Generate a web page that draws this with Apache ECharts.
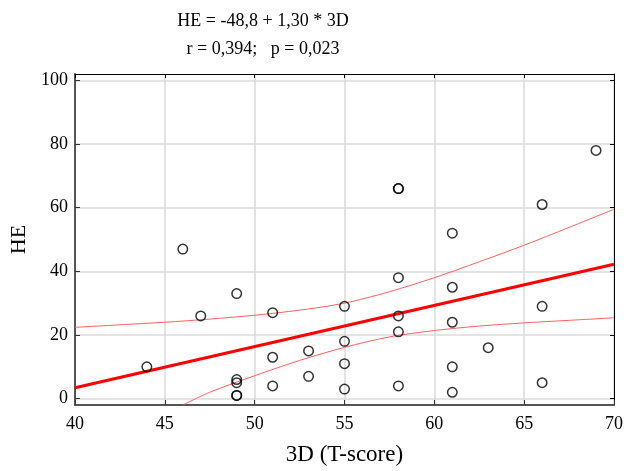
<!DOCTYPE html>
<html>
<head>
<meta charset="utf-8">
<script src="https://cdn.jsdelivr.net/npm/echarts@6/dist/echarts.min.js"></script>
<style>
html,body{margin:0;padding:0;background:#fff;}
#chart{width:626px;height:471px;}
</style>
</head>
<body>
<div id="chart"></div>
<script>
// Observations: 3D (T-score) vs HE
var xVals = [44,46,47,49,49,49,49,49,51,51,51,53,53,55,55,55,55,58,58,58,58,58,58,61,61,61,61,61,63,66,66,66,69];
var yVals = [10,47,26,33,6,5,1,1,27,13,4,15,7,29,18,11,3,66,66,38,26,21,4,52,35,24,10,2,16,61,29,5,78];

// Regression line end points
var regX = [40, 70];
var regY = [3.4, 42.2];

// 95% confidence bands
var upperX = [40,42.5,45,47.5,50,52.5,55,57.5,60,62.5,65,67.5,70];
var upperY = [22.4,23.2,24,25,26.2,27.8,30,33.6,38,43,48.2,53.8,59.5];
var lowerX = [46,47.5,50,52.5,55,57.5,60,62.5,65,67.5,70];
var lowerY = [-2,2,7.2,12,16.1,19.4,21.4,22.8,23.8,24.6,25.4];

var xTicks = [40,45,50,55,60,65,70];
var yTicks = [0,20,40,60,80,100];

var titleLine1 = 'HE = -48,8 + 1,30 * 3D';
var titleLine2 = 'r = 0,394;   p = 0,023';
var xName = '3D (T-score)';
var yName = 'HE';

function pairs(xs, ys){ return xs.map(function(x,i){ return [x, ys[i]]; }); }

var FONT = 'Liberation Serif';
var chart = echarts.init(document.getElementById('chart'), null, {renderer:'canvas'});
chart.setOption({
  animation: false,
  backgroundColor: '#ffffff',
  title: {
    text: titleLine1 + '\n' + titleLine2,
    left: 263, top: 7, padding: 0,
    textAlign: 'center',
    textStyle: {fontFamily: FONT, fontSize: 18, fontWeight: 'normal', color: '#000', lineHeight: 28}
  },
  grid: {left: 75, right: 12, top: 74, bottom: 63, containLabel: false},
  xAxis: [{
    type: 'value', min: xTicks[0], max: xTicks[xTicks.length-1], interval: 5,
    position: 'bottom',
    name: xName, nameLocation: 'middle', nameGap: 38,
    nameTextStyle: {fontFamily: FONT, fontSize: 23, color: '#000'},
    axisLine: {show: true, onZero: false, lineStyle: {color: '#555', width: 2}},
    axisTick: {show: true, inside: true, length: 5, lineStyle: {color: '#333'}},
    axisLabel: {fontFamily: FONT, fontSize: 18, color: '#000', margin: 10},
    splitLine: {show: true, lineStyle: {color: '#dadada', width: 1.5}}
  },{
    type: 'value', min: xTicks[0], max: xTicks[xTicks.length-1], interval: 5,
    position: 'top',
    axisLine: {show: true, onZero: false, lineStyle: {color: '#000', width: 1}},
    axisTick: {show: true, inside: true, length: 4, lineStyle: {color: '#000'}},
    axisLabel: {show: false},
    splitLine: {show: false}
  }],
  yAxis: [{
    type: 'value', min: -2, max: 102,
    position: 'left',
    name: yName, nameLocation: 'middle', nameGap: 42, nameRotate: 90,
    nameTextStyle: {fontFamily: FONT, fontSize: 22, color: '#000'},
    axisLine: {show: true, onZero: false, lineStyle: {color: '#555', width: 2}},
    axisTick: {show: true, inside: true, length: 5, customValues: yTicks, lineStyle: {color: '#333'}},
    axisLabel: {fontFamily: FONT, fontSize: 18, color: '#000', margin: 7, customValues: yTicks},
    splitLine: {show: true, lineStyle: {color: '#dadada', width: 1.5}}
  },{
    type: 'value', min: -2, max: 102,
    position: 'right',
    axisLine: {show: true, onZero: false, lineStyle: {color: '#000', width: 1}},
    axisTick: {show: true, inside: true, length: 4, customValues: yTicks, lineStyle: {color: '#000'}},
    axisLabel: {show: false, customValues: yTicks},
    splitLine: {show: false}
  }],
  series: [{
    type: 'line', data: pairs(upperX, upperY), smooth: 0.3,
    showSymbol: false, symbol: 'none', clip: true,
    lineStyle: {color: '#ff6060', width: 1}, z: 2
  },{
    type: 'line', data: pairs(lowerX, lowerY), smooth: 0.3,
    showSymbol: false, symbol: 'none', clip: true,
    lineStyle: {color: '#ff6060', width: 1}, z: 2
  },{
    type: 'line', data: pairs(regX, regY), showSymbol: false, symbol: 'none', clip: true,
    lineStyle: {color: '#ff0000', width: 3}, z: 3
  },{
    type: 'scatter', data: pairs(xVals, yVals), symbol: 'circle', symbolSize: 9.5,
    itemStyle: {color: 'rgba(0,0,0,0)', borderColor: '#000', borderWidth: 1.5},
    z: 4
  }]
});
</script>
</body>
</html>
